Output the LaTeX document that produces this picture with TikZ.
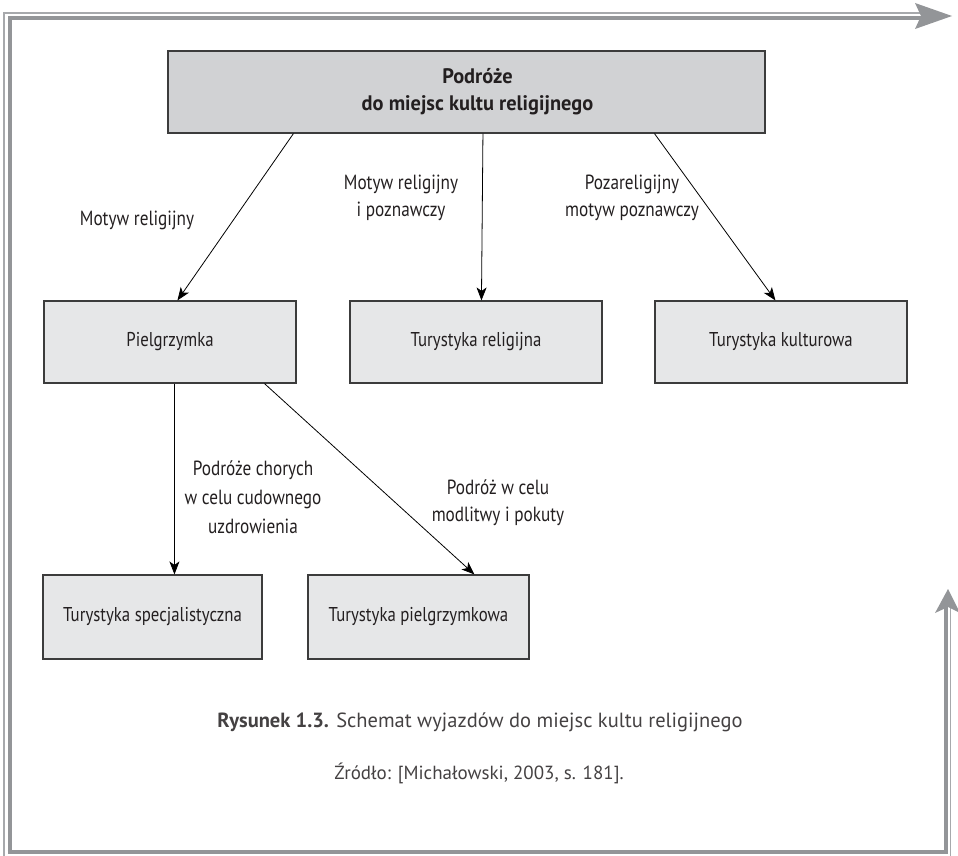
\documentclass[tikz,border=0pt]{standalone}
\usepackage{fontspec}
\setmainfont{PT Sans}
\newfontfamily\cond[FakeStretch=0.84]{PT Sans}
\newfontfamily\condb[FakeStretch=0.97]{PT Sans}
\usetikzlibrary{arrows.meta}
\definecolor{frameA}{HTML}{939598}
\definecolor{frameB}{HTML}{A7A9AC}
\definecolor{topfill}{HTML}{D1D2D4}
\definecolor{boxfill}{HTML}{E6E7E8}
\definecolor{boxline}{HTML}{3C3C3C}
\definecolor{ink}{HTML}{231F20}
\tikzset{
  box/.style={draw=boxline, line width=1.1pt, fill=boxfill, minimum height=82pt, inner sep=0pt, font=\cond\fontsize{20}{24}\selectfont, text=ink},
  topbox/.style={box, fill=topfill, font=\condb\bfseries\fontsize{21}{27}\selectfont, align=center},
  lbl/.style={font=\cond\fontsize{20.5}{27}\selectfont, align=center, text=ink, inner sep=0pt},
  arr/.style={-{Stealth[length=13pt,width=10pt,inset=3.5pt]}, line width=0.8pt, black},
}
\begin{document}
\begin{tikzpicture}[x=1pt,y=-1pt]
\useasboundingbox (0,0) rectangle (958,856);
% frame
\draw[frameB, line width=1.6pt] (4,856) -- (4,13) -- (922,13);
\draw[frameA, line width=4pt] (9.5,852) -- (9.5,18) -- (922,18);
\draw[frameA, line width=4pt] (7.5,852) -- (946,852) -- (946,605);
\draw[frameB, line width=1.6pt] (950.5,856) -- (950.5,605);
\fill[frameA] (952,16) -- (915,3) -- (921,16) -- (915,29) -- cycle;
\fill[frameA] (948,589) -- (935,613) -- (948,607) -- (960,613) -- cycle;
% nodes
\node[topbox, minimum width=597pt] (top) at (466.5,92) {\hspace*{22pt}Podróże\\\hspace*{22pt}do miejsc kultu religijnego};
\node[box, minimum width=252pt] (piel) at (170,342) {Pielgrzymka};
\node[box, minimum width=252pt] (rel) at (476,342) {Turystyka religijna};
\node[box, minimum width=252pt] (kult) at (781,342) {Turystyka kulturowa};
\node[box, minimum width=219pt, minimum height=84pt] (spec) at (152.5,617) {Turystyka specjalistyczna};
\node[box, minimum width=221pt, minimum height=84pt] (pielk) at (418.5,617) {Turystyka pielgrzymkowa};
% connectors
\draw[arr] ([xshift=126pt]top.south west) -- ([xshift=134pt]piel.north west);
\draw[arr] ([xshift=315.5pt]top.south west) -- ([xshift=132pt]rel.north west);
\draw[arr] ([xshift=487pt]top.south west) -- ([xshift=121pt]kult.north west);
\draw[arr] ([xshift=131pt]piel.south west) -- ([xshift=132pt]spec.north west);
\draw[arr] ([xshift=221pt]piel.south west) -- ([xshift=167pt]pielk.north west);
% labels
\node[lbl] (l1) at (137,220) {Motyw religijny};
\node[lbl] (l2) at (401,198) {Motyw religijny\\i poznawczy};
\node[lbl] (l3) at (632,198) {Pozareligijny\\motyw poznawczy};
\node[lbl, font=\cond\fontsize{20.5}{29}\selectfont] (l4) at (253,497) {Podróże chorych\\w celu cudownego\\uzdrowienia};
\node[lbl] (l5) at (498,503) {Podróż w celu\\modlitwy i pokuty};
% caption
\node[font=\fontsize{20.5}{24}\selectfont, text=ink!85, inner sep=0pt] (cap) at (480,722) {\textbf{Rysunek 1.3.} Schemat wyjazdów do miejsc kultu religijnego};
\node[font=\fontsize{19}{22}\selectfont, text=ink!85, inner sep=0pt] (src) at (479,773) {Źródło: [Michałowski, 2003, s. 181].};
\end{tikzpicture}
\end{document}
